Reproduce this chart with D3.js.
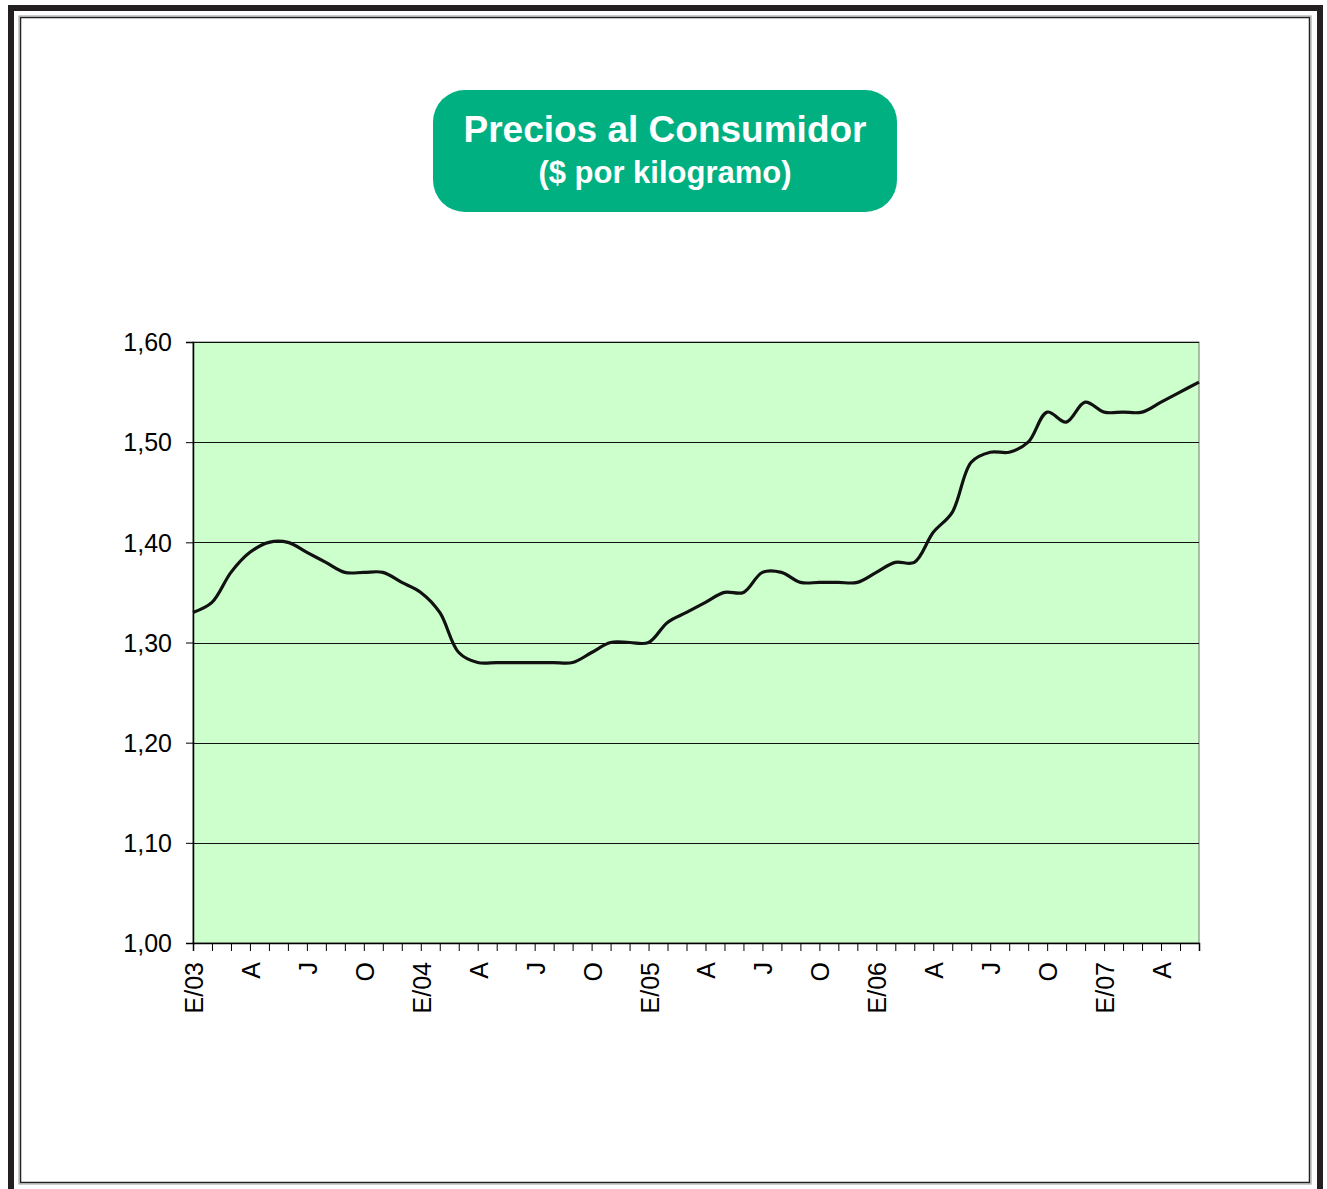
<!DOCTYPE html>
<html>
<head>
<meta charset="utf-8">
<script src="https://cdn.jsdelivr.net/npm/d3@7"></script>
<style>
  html, body { margin: 0; padding: 0; background: #fff; }
  svg { display: block; }
</style>
</head>
<body>
<svg id="chart" width="1327" height="1189"></svg>
<script>
// Monthly consumer price, Jan 2003 – Jun 2007 ($ per kg)
const months = [
  "E/03","F","M","A","M","J","J","A","S","O","N","D",
  "E/04","F","M","A","M","J","J","A","S","O","N","D",
  "E/05","F","M","A","M","J","J","A","S","O","N","D",
  "E/06","F","M","A","M","J","J","A","S","O","N","D",
  "E/07","F","M","A","M","J"
];
const prices = [
  1.33, 1.34, 1.37, 1.39, 1.40, 1.40, 1.39, 1.38, 1.37, 1.37, 1.37, 1.36,
  1.35, 1.33, 1.29, 1.28, 1.28, 1.28, 1.28, 1.28, 1.28, 1.29, 1.30, 1.30,
  1.30, 1.32, 1.33, 1.34, 1.35, 1.35, 1.37, 1.37, 1.36, 1.36, 1.36, 1.36,
  1.37, 1.38, 1.38, 1.41, 1.43, 1.48, 1.49, 1.49, 1.50, 1.53, 1.52, 1.54,
  1.53, 1.53, 1.53, 1.54, 1.55, 1.56
];
// Only every third month is labelled on the axis
const xLabelIdx = d3.range(0, months.length, 3);
const yTicks = [1.00, 1.10, 1.20, 1.30, 1.40, 1.50, 1.60];

const svg = d3.select("#chart");
const FONT = "Liberation Sans, Arial, sans-serif";

// Outer frame
svg.append("rect").attr("x", 11).attr("y", 8).attr("width", 1309).attr("height", 1190)
  .attr("fill", "none").attr("stroke", "#231f20").attr("stroke-width", 6);
svg.append("rect").attr("x", 20.5).attr("y", 17.5).attr("width", 1289).attr("height", 1165)
  .attr("fill", "none").attr("stroke", "#222").attr("stroke-width", 1.5);
svg.append("rect").attr("x", 19).attr("y", 16).attr("width", 1292).attr("height", 1168)
  .attr("fill", "none").attr("stroke", "#999").attr("stroke-width", 1);

// Title badge
svg.append("rect").attr("x", 433).attr("y", 90).attr("width", 464).attr("height", 122)
  .attr("rx", 32).attr("ry", 32).attr("fill", "#00b080");
svg.append("text").attr("x", 665).attr("y", 142).attr("text-anchor", "middle")
  .attr("font-family", FONT).attr("font-weight", "bold")
  .attr("font-size", 37).attr("fill", "#fff").text("Precios al Consumidor");
svg.append("text").attr("x", 665).attr("y", 183).attr("text-anchor", "middle")
  .attr("font-family", FONT).attr("font-weight", "bold")
  .attr("font-size", 31).attr("fill", "#fff").text("($ por kilogramo)");

// Plot area
const L = 193, R = 1199, T = 342, B = 943;
const x = d3.scaleLinear().domain([0, months.length - 1]).range([L, R]);
const y = d3.scaleLinear().domain([1.0, 1.6]).range([B, T]);

svg.append("rect").attr("x", L).attr("y", T).attr("width", R - L).attr("height", B - T)
  .attr("fill", "#ccffcc").attr("stroke", "#777").attr("stroke-width", 1);

// Horizontal gridlines
svg.append("g").selectAll("line").data(yTicks.slice(1)).join("line")
  .attr("x1", L).attr("x2", R)
  .attr("y1", d => Math.round(y(d)) + 0.5).attr("y2", d => Math.round(y(d)) + 0.5)
  .attr("stroke", "#111").attr("stroke-width", 1);

const fmt = d => d.toFixed(2).replace(".", ",");

// Y axis
const yAxis = svg.append("g").attr("transform", `translate(${L},0)`)
  .call(d3.axisLeft(y).tickValues(yTicks).tickFormat(fmt).tickSize(7).tickPadding(14));
yAxis.select(".domain").attr("stroke", "#000").attr("stroke-width", 1.5);
yAxis.selectAll("line").attr("stroke", "#000");
yAxis.selectAll("text").attr("font-family", FONT)
  .attr("font-size", 25).attr("fill", "#000").attr("dy", "0.35em");

// X axis: a tick every month, labels every quarter (rotated)
const xAxis = svg.append("g").attr("transform", `translate(0,${B})`)
  .call(d3.axisBottom(x).tickValues(d3.range(months.length)).tickFormat("").tickSize(8));
xAxis.select(".domain").attr("stroke", "#000").attr("stroke-width", 1.5);
xAxis.selectAll("line").attr("stroke", "#000");

svg.append("g").selectAll("text").data(xLabelIdx).join("text")
  .attr("transform", i => `translate(${x(i) + 10},${B + 19}) rotate(-90)`)
  .attr("text-anchor", "end")
  .attr("font-family", FONT)
  .attr("font-size", 25).attr("fill", "#000")
  .text(i => months[i]);

// Price line
const line = d3.line().x((d, i) => x(i)).y(d => y(d)).curve(d3.curveCatmullRom.alpha(0.5));
svg.append("path").datum(prices).attr("d", line)
  .attr("fill", "none").attr("stroke", "#111").attr("stroke-width", 3.2)
  .attr("stroke-linejoin", "round").attr("stroke-linecap", "butt");
</script>
</body>
</html>
